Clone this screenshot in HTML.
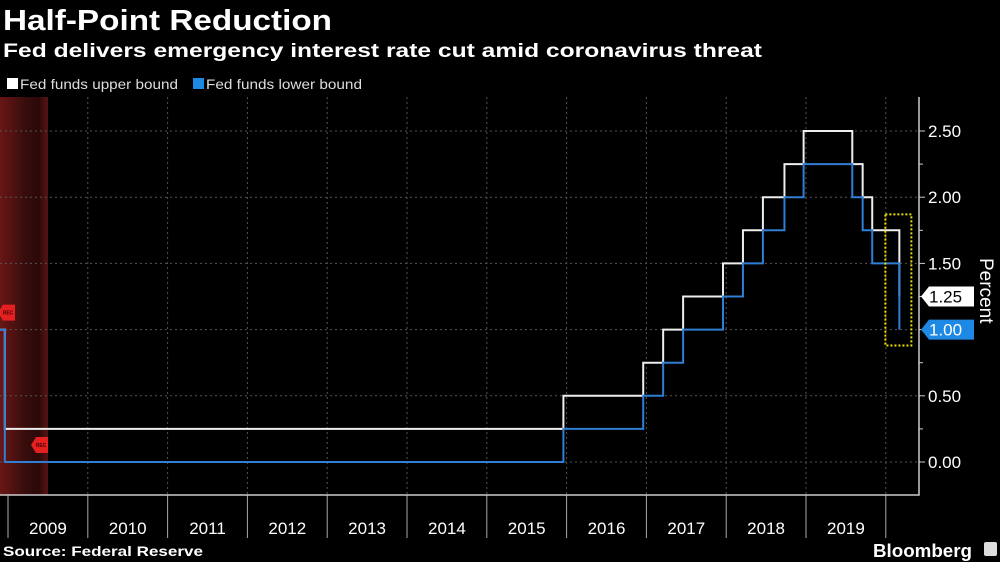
<!DOCTYPE html>
<html><head><meta charset="utf-8">
<style>
body{margin:0;background:#000;width:1000px;height:562px;overflow:hidden;font-family:"Liberation Sans",sans-serif;color:#fff}
svg{position:absolute;left:0;top:0}
</style></head>
<body>
<svg width="1000" height="562">
<defs>
<linearGradient id="rec" x1="0" x2="1">
<stop offset="0" stop-color="#6a1616"/><stop offset="0.5" stop-color="#3a0d0d"/><stop offset="0.8" stop-color="#2a0909"/><stop offset="1" stop-color="#5a1414"/>
</linearGradient>
</defs>
<text x="3" y="30" font-size="29" font-weight="bold" fill="#fff" textLength="329" lengthAdjust="spacingAndGlyphs">Half-Point Reduction</text>
<text x="3" y="57" font-size="19.5" font-weight="bold" fill="#fff" textLength="759" lengthAdjust="spacingAndGlyphs">Fed delivers emergency interest rate cut amid coronavirus threat</text>
<g>
<rect x="7" y="78" width="11" height="11" fill="#fff"/>
<text x="20" y="89" font-size="14" fill="#ddd" textLength="158" lengthAdjust="spacingAndGlyphs">Fed funds upper bound</text>
<rect x="193" y="78" width="11" height="11" fill="#1e88e5"/>
<text x="206" y="89" font-size="14" fill="#ddd" textLength="156" lengthAdjust="spacingAndGlyphs">Fed funds lower bound</text>
</g>
<g id="plot"></g>
<text x="3" y="556" font-size="14" font-weight="bold" fill="#fff" textLength="200" lengthAdjust="spacingAndGlyphs">Source: Federal Reserve</text>
<text x="873" y="557" font-size="18" font-weight="bold" fill="#fff" textLength="99" lengthAdjust="spacingAndGlyphs">Bloomberg</text>
<rect x="984" y="542" width="13" height="14" rx="2" fill="#ddd"/>
</svg>
<script>
const yearLabels=["2009","2010","2011","2012","2013","2014","2015","2016","2017","2018","2019"];
const yTicks=[0,0.5,1,1.5,2,2.5];
const changeDates=[2008.5,2008.96,2015.96,2016.96,2017.21,2017.46,2017.96,2018.21,2018.46,2018.73,2018.97,2019.58,2019.71,2019.83,2020.17];
const upperVals=[1.0,0.25,0.5,0.75,1.0,1.25,1.5,1.75,2.0,2.25,2.5,2.25,2.0,1.75,1.25];
const lowerVals=[1.0,0,0.25,0.5,0.75,1.0,1.25,1.5,1.75,2.0,2.25,2.0,1.75,1.5,1.0];
const recessions=[[2008.5,2009.5]];
const endDate=2020.17;
const lastUpper=1.25, lastLower=1.00;

const NS="http://www.w3.org/2000/svg";
const X=t=>8+(t-2009)*79.8;
const Y=v=>462-v*132.4;
const g=document.getElementById('plot');
function mk(tag,a){const e=document.createElementNS(NS,tag);for(const k in a)e.setAttribute(k,a[k]);g.appendChild(e);return e;}

recessions.forEach(r=>{
 const e=mk('rect',{x:Math.max(0,X(r[0])),y:97,width:X(r[1])-Math.max(0,X(r[0])),height:398,fill:'url(#rec)'});
 
 
});
yTicks.forEach(v=>{
 const l=mk('line',{x1:0,x2:919,y1:Y(v),y2:Y(v),stroke:'#555','stroke-dasharray':'2,3','stroke-width':1});
 
 
 const t=mk('line',{x1:919,x2:925,y1:Y(v),y2:Y(v),stroke:'#ccc'});
 
 
 const tx=mk('text',{x:928,y:Y(v)+6,'font-size':17,fill:'#fff'});
 tx.textContent=v.toFixed(2);
 
 
});
[0.25,0.75,1.25,1.75,2.25].forEach(v=>{
 const t=mk('line',{x1:919,x2:923,y1:Y(v),y2:Y(v),stroke:'#ccc'});
 
 
});
for(let i=0;i<=yearLabels.length;i++){
 const x=X(2009+i);
 if(i>0){const l=mk('line',{x1:x,x2:x,y1:97,y2:495,stroke:'#555','stroke-dasharray':'2,3'});
 
 }
 const s=mk('line',{x1:x,x2:x,y1:495,y2:538,stroke:'#aaa'});
 
 
 if(i<yearLabels.length){
  const tx=mk('text',{x:X(2009.5+i),y:534,'font-size':17,fill:'#fff','text-anchor':'middle'});
  tx.textContent=yearLabels[i];
  
  
 }
}
const ax=mk('polyline',{points:'0,495 919,495 919,97',fill:'none',stroke:'#ccc','stroke-width':1.5});



function stepPath(vals){
 let d='';
 for(let i=0;i<changeDates.length;i++){
  const x=Math.max(0,X(changeDates[i]));
  if(i===0)d+='M'+x+','+Y(vals[i]);
  else d+=' L'+x+','+Y(vals[i-1])+' L'+x+','+Y(vals[i]);
 }
 d+=' L'+X(endDate)+','+Y(vals[vals.length-1]);
 return d;
}
const up=mk('path',{d:stepPath(upperVals),fill:'none',stroke:'#eee','stroke-width':2});


const lo=mk('path',{d:stepPath(lowerVals),fill:'none',stroke:'#2f7fd6','stroke-width':2});



const bx=mk('rect',{x:X(endDate)-14,y:Y(1.87),width:26,height:Y(0.88)-Y(1.87),fill:'none',stroke:'#e8e000','stroke-width':2,'stroke-dasharray':'2,2'});



[[-2,Y(1.0)-17],[31,Y(0)-17]].forEach(r=>{
 const bx0=r[0], y=r[1];
 const p=mk('polygon',{points:`${bx0+5},${y-8} ${bx0+17},${y-8} ${bx0+17},${y+8} ${bx0+5},${y+8} ${bx0},${y}`,fill:'#e52020'});
 
 
 const t=mk('text',{x:bx0+10,y:y+2,'font-size':5,fill:'#400','text-anchor':'middle','font-weight':'bold'});
 t.textContent='REC';
 
 
});

function tag(v,bg,fg,nm){
 const y=Y(v);
 const p=mk('polygon',{points:`921,${y} 929,${y-10} 974,${y-10} 974,${y+10} 929,${y+10}`,fill:bg});
 
 
 const t=mk('text',{x:929,y:y+6,'font-size':17,fill:fg});
 t.textContent=v.toFixed(2);
 
 
}
tag(lastUpper,'#fff','#000','last-value-upper');
tag(lastLower,'#1e88e5','#fff','last-value-lower');
const pc=mk('text',{x:0,y:0,'font-size':19,fill:'#fff',transform:'translate(980,258) rotate(90)'});
pc.textContent='Percent';


</script>
</body></html>
